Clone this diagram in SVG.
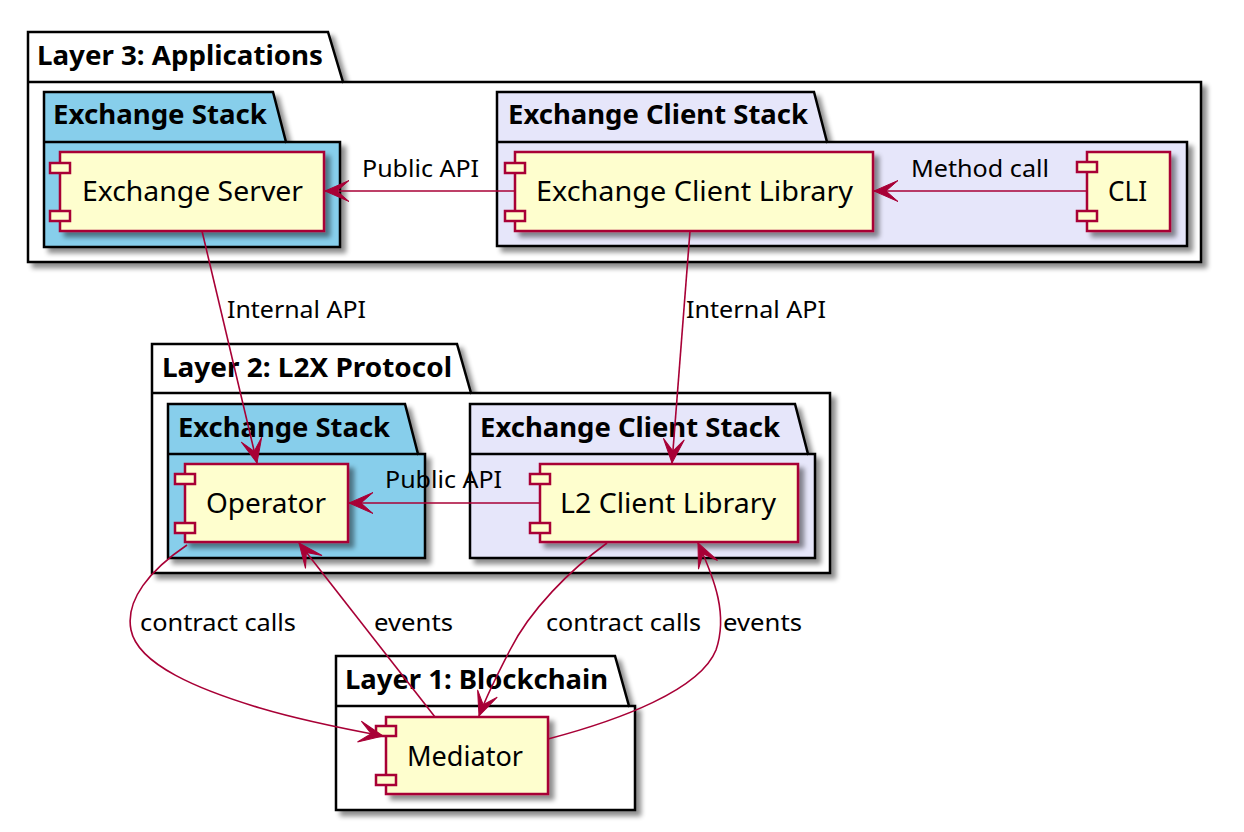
<svg xmlns="http://www.w3.org/2000/svg" width="1244" height="832" viewBox="0 0 1244 832">
<defs>
<filter id="sh" x="-10%" y="-10%" width="130%" height="130%">
<feGaussianBlur in="SourceAlpha" stdDeviation="2.5"/>
<feOffset dx="5" dy="5" result="b"/>
<feComponentTransfer><feFuncA type="linear" slope="0.45"/></feComponentTransfer>
<feMerge><feMergeNode/><feMergeNode in="SourceGraphic"/></feMerge>
</filter>
<marker id="ah" markerUnits="userSpaceOnUse" viewBox="-26 -12 28 24" refX="0" refY="0" markerWidth="28" markerHeight="24" orient="auto">
<path d="M0,0 L-24,-10.5 L-12,0 L-24,10.5 Z" fill="#A80036" stroke="#A80036" stroke-width="1"/>
</marker>
</defs>
<style>
.pkg{fill:#FFFFFF;stroke:#000;stroke-width:2.5}
.pkgx{fill:#87CEEB;stroke:#000;stroke-width:2.5}
.pkgc{fill:#E6E6FA;stroke:#000;stroke-width:2.5}
.tl{fill:none;stroke:#000;stroke-width:2.5}
.pt{font-family:'Noto Sans','Open Sans',sans-serif;font-weight:bold;font-size:27px;fill:#000}
.comp{fill:#FEFECE;stroke:#A80036;stroke-width:2.5}
.nub{fill:#FEFECE;stroke:#A80036;stroke-width:2.5}
.ct{font-family:'Noto Sans','Open Sans',sans-serif;font-size:27px;fill:#000}
.lb{font-family:'Noto Sans','Open Sans',sans-serif;font-size:24px;fill:#000}
.ed{fill:none;stroke:#A80036;stroke-width:1.6}
</style>
<rect width="1244" height="832" fill="#FFFFFF"/>

<g id="layer3">
<path class="pkg" filter="url(#sh)" d="M28,32 L328,32 L343,82 L1201,82 L1201,262 L28,262 Z"/>
<line class="tl" x1="28" y1="82" x2="343" y2="82"/>
<text class="pt" x="37" y="65" textLength="286" lengthAdjust="spacingAndGlyphs">Layer 3: Applications</text>
</g>
<g id="l3-exchange-stack">
<path class="pkgx" filter="url(#sh)" d="M44,92 L273,92 L286,142 L340,142 L340,247 L44,247 Z"/>
<line class="tl" x1="44" y1="142" x2="286" y2="142"/>
<text class="pt" x="53" y="124" textLength="214" lengthAdjust="spacingAndGlyphs">Exchange Stack</text>
</g>
<g id="l3-client-stack">
<path class="pkgc" filter="url(#sh)" d="M497,92 L814,92 L827,142 L1187,142 L1187,246 L497,246 Z"/>
<line class="tl" x1="497" y1="142" x2="827" y2="142"/>
<text class="pt" x="508" y="124" textLength="300" lengthAdjust="spacingAndGlyphs">Exchange Client Stack</text>
</g>
<g id="layer2">
<path class="pkg" filter="url(#sh)" d="M152,344 L457,344 L471,393 L830,393 L830,573 L152,573 Z"/>
<line class="tl" x1="152" y1="393" x2="471" y2="393"/>
<text class="pt" x="162" y="377" textLength="290" lengthAdjust="spacingAndGlyphs">Layer 2: L2X Protocol</text>
</g>
<g id="l2-exchange-stack">
<path class="pkgx" filter="url(#sh)" d="M168,404 L405,404 L418,454 L425,454 L425,558 L168,558 Z"/>
<line class="tl" x1="168" y1="454" x2="418" y2="454"/>
<text class="pt" x="178" y="437" textLength="212" lengthAdjust="spacingAndGlyphs">Exchange Stack</text>
</g>
<g id="l2-client-stack">
<path class="pkgc" filter="url(#sh)" d="M470,404 L795,404 L808,454 L815,454 L815,558 L470,558 Z"/>
<line class="tl" x1="470" y1="454" x2="808" y2="454"/>
<text class="pt" x="480" y="437" textLength="300" lengthAdjust="spacingAndGlyphs">Exchange Client Stack</text>
</g>
<g id="layer1">
<path class="pkg" filter="url(#sh)" d="M336,656 L615,656 L629,706 L635,706 L635,810 L336,810 Z"/>
<line class="tl" x1="336" y1="706" x2="629" y2="706"/>
<text class="pt" x="345" y="689" textLength="263" lengthAdjust="spacingAndGlyphs">Layer 1: Blockchain</text>
</g>

<g id="exchange-server">
<rect class="comp" filter="url(#sh)" x="60" y="152" width="264" height="79"/>
<rect class="nub" x="50" y="163" width="20" height="10"/>
<rect class="nub" x="50" y="211" width="20" height="10"/>
<text class="ct" x="82" y="201" textLength="221" lengthAdjust="spacingAndGlyphs">Exchange Server</text>
</g>
<g id="exchange-client-library">
<rect class="comp" filter="url(#sh)" x="515" y="152" width="358" height="79"/>
<rect class="nub" x="505" y="163" width="20" height="10"/>
<rect class="nub" x="505" y="211" width="20" height="10"/>
<text class="ct" x="536" y="201" textLength="317" lengthAdjust="spacingAndGlyphs">Exchange Client Library</text>
</g>
<g id="cli">
<rect class="comp" filter="url(#sh)" x="1087" y="152" width="83" height="79"/>
<rect class="nub" x="1077" y="162" width="20" height="10"/>
<rect class="nub" x="1077" y="211" width="20" height="10"/>
<text class="ct" x="1108" y="201" textLength="39" lengthAdjust="spacingAndGlyphs">CLI</text>
</g>
<g id="operator">
<rect class="comp" filter="url(#sh)" x="185" y="464" width="163" height="78"/>
<rect class="nub" x="175" y="474" width="20" height="10"/>
<rect class="nub" x="175" y="523" width="20" height="10"/>
<text class="ct" x="206" y="513" textLength="120" lengthAdjust="spacingAndGlyphs">Operator</text>
</g>
<g id="l2-client-library">
<rect class="comp" filter="url(#sh)" x="540" y="464" width="258" height="78"/>
<rect class="nub" x="530" y="474" width="20" height="10"/>
<rect class="nub" x="530" y="523" width="20" height="10"/>
<text class="ct" x="560" y="513" textLength="216" lengthAdjust="spacingAndGlyphs">L2 Client Library</text>
</g>
<g id="mediator">
<rect class="comp" filter="url(#sh)" x="386" y="717" width="162" height="77"/>
<rect class="nub" x="376" y="726" width="20" height="10"/>
<rect class="nub" x="376" y="775" width="20" height="10"/>
<text class="ct" x="407" y="766" textLength="116" lengthAdjust="spacingAndGlyphs">Mediator</text>
</g>

<g id="connectors">
<path class="ed" marker-end="url(#ah)" d="M1087,191 L874,191"/>
<text class="lb" x="911" y="177" textLength="138" lengthAdjust="spacingAndGlyphs">Method call</text>
<path class="ed" marker-end="url(#ah)" d="M515,191 L325,191"/>
<text class="lb" x="362" y="177" textLength="117" lengthAdjust="spacingAndGlyphs">Public API</text>
<path class="ed" marker-end="url(#ah)" d="M202,231 L257,463"/>
<text class="lb" x="227" y="318" textLength="139" lengthAdjust="spacingAndGlyphs">Internal API</text>
<path class="ed" marker-end="url(#ah)" d="M690,231 L672,463"/>
<text class="lb" x="686" y="318" textLength="140" lengthAdjust="spacingAndGlyphs">Internal API</text>
<path class="ed" marker-end="url(#ah)" d="M540,503 L349,503"/>
<text class="lb" x="385" y="488" textLength="117" lengthAdjust="spacingAndGlyphs">Public API</text>
<path class="ed" marker-end="url(#ah)" d="M187,545 C150,570 125,600 131,630 C138,665 200,690 260,708 C300,720 340,728 383,736"/>
<text class="lb" x="140" y="631" textLength="156" lengthAdjust="spacingAndGlyphs">contract calls</text>
<path class="ed" marker-end="url(#ah)" d="M435,717 L299,543"/>
<text class="lb" x="374" y="631" textLength="79" lengthAdjust="spacingAndGlyphs">events</text>
<path class="ed" marker-end="url(#ah)" d="M607,543 C570,570 530,610 510,650 C497,675 485,700 479,716"/>
<text class="lb" x="546" y="631" textLength="155" lengthAdjust="spacingAndGlyphs">contract calls</text>
<path class="ed" marker-end="url(#ah)" d="M548,739 C620,720 700,690 716,650 C728,615 715,580 698,543"/>
<text class="lb" x="723" y="631" textLength="79" lengthAdjust="spacingAndGlyphs">events</text>
</g>
</svg>
